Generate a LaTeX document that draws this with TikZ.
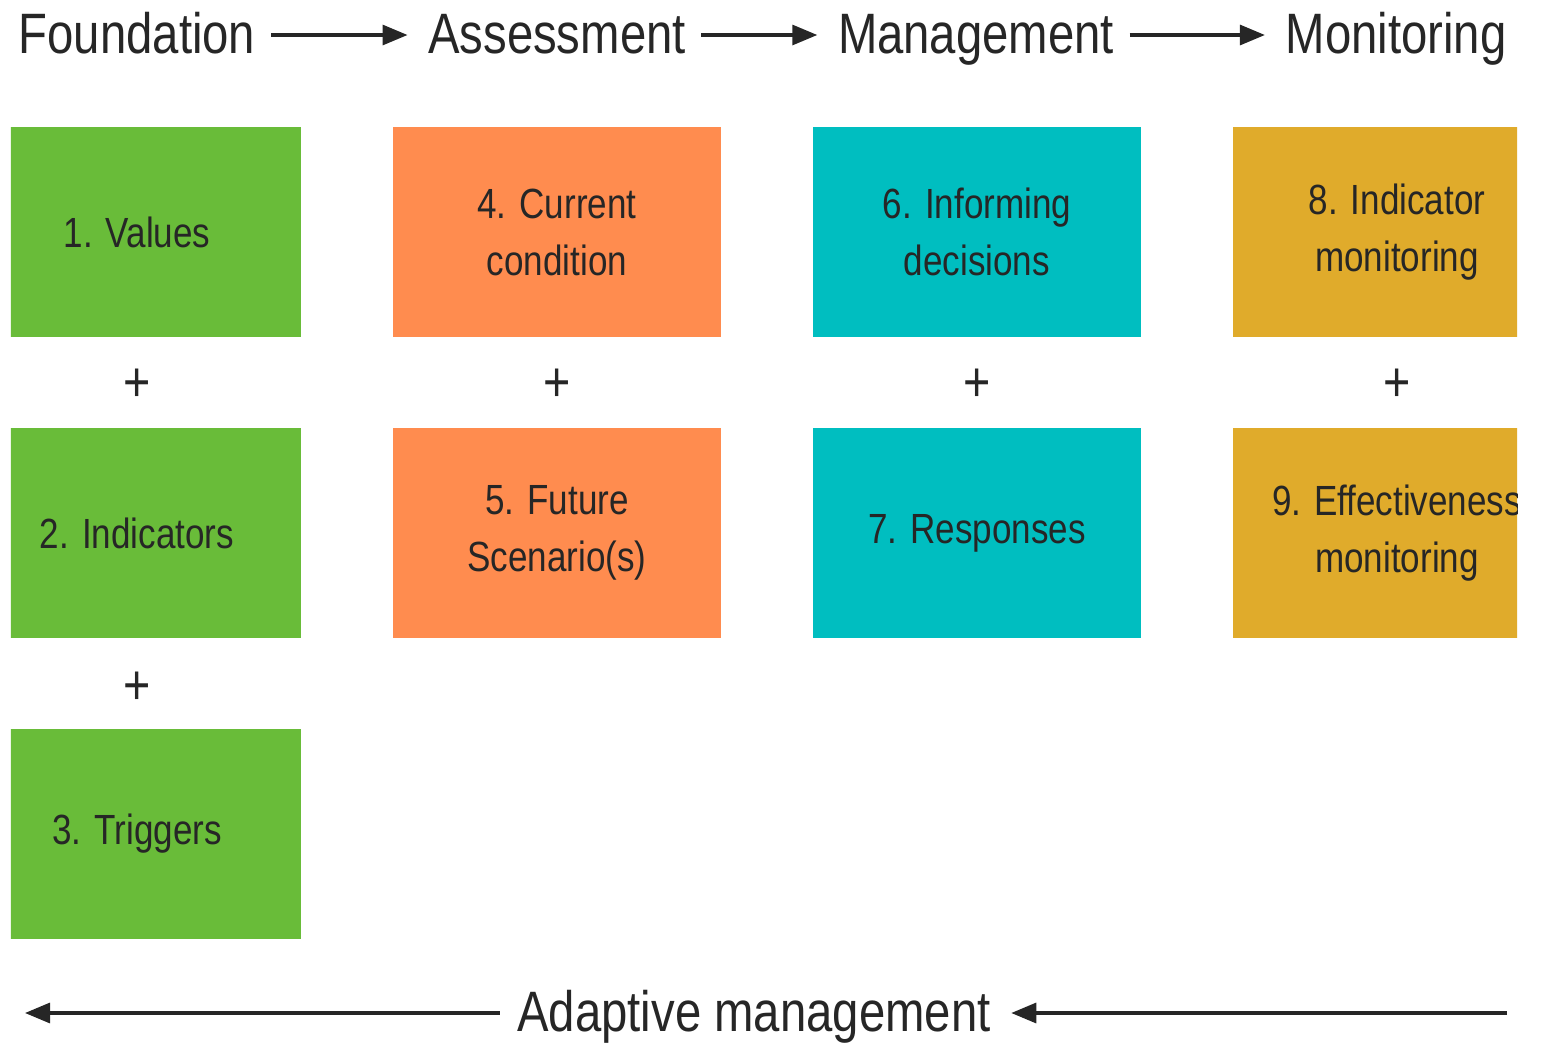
\documentclass[tikz,border=0pt]{standalone}
\usepackage{fontspec}
\setmainfont{Liberation Sans}[FakeStretch=0.83]
\usetikzlibrary{arrows.meta,positioning}
\definecolor{stepgreen}{HTML}{69BC39}
\definecolor{steporange}{HTML}{FF8C4F}
\definecolor{stepteal}{HTML}{00BEC0}
\definecolor{stepgold}{HTML}{E0AB2B}
\begin{document}
\begin{tikzpicture}[
            x=0.01cm, y=-0.01cm,
            stage/.style={inner sep=0pt,text height=0.44cm,text depth=0.08cm,
                text=black!85,font=\fontsize{16.2}{19}\selectfont},
            step box/.style={rectangle,minimum width=3.27cm,minimum height=2.1cm,inner sep=0pt,
                align=center,text=black!85,font=\fontsize{12}{16.2}\selectfont},
            plus/.style={inner sep=0pt,text=black!85,font=\fontsize{16}{16}\selectfont},
            flow/.style={line width=0.9pt,black!85,-{Triangle[length=2.5mm,width=2mm]}}]
            \useasboundingbox (0,0) rectangle (1541,1045);
                    % Define stages
            \node[stage] (found) at (137,35) {Foundation};
            \node[stage] (assess) at (557,35) {Assessment};
            \node[stage] (manage) at (976,35) {Management};
            \node[stage] (monit) at (1396,35) {Monitoring};
            \node[stage] (adapt) at (754,1013) {Adaptive management};
                    % Define steps
            \begin{scope}
            \clip (11,0) rectangle (1517,1045);
            \node[step box,fill=stepgreen] (1) at (137,232) {1. Values};
            \node[step box,fill=stepgreen] (2) at (137,533) {2. Indicators};
            \node[step box,fill=stepgreen] (3) at (137,834) {3. Triggers};
            \node[step box,fill=steporange] (4) at (557,232) {4. Current\\condition};
            \node[step box,fill=steporange] (5) at (557,533) {5. Future\\Scenario(s)};
            \node[step box,fill=stepteal] (6) at (977,232) {6. Informing\\decisions};
            \node[step box,fill=stepteal] (7) at (977,533) {7. Responses};
            \node[step box,fill=stepgold] (8) at (1397,232) {8. Indicator\\monitoring};
            \node[step box,fill=stepgold] (9) at (1397,533) {9. Effectiveness\\monitoring};
            \end{scope}
                    % Plus signs
            \node[plus] (p12) at (137,385) {+};
            \node[plus] (p23) at (137,688) {+};
            \node[plus] (p45) at (557,385) {+};
            \node[plus] (p67) at (977,385) {+};
            \node[plus] (p89) at (1397,385) {+};
                    % Connectors
            \draw[flow,shorten <=0.15cm,shorten >=0.2cm] (found) -- (assess);
            \draw[flow,shorten <=0.15cm,shorten >=0.2cm] (assess) -- (manage);
            \draw[flow,shorten <=0.15cm,shorten >=0.2cm] (manage) -- (monit);
            \coordinate (left end) at (25,1013);
            \coordinate (right end) at (1507,1013);
            \draw[flow,shorten <=0.17cm] (adapt.west) -- (left end);
            \draw[flow,shorten >=0.2cm] (right end) -- (adapt.east);
        \end{tikzpicture}
\end{document}
